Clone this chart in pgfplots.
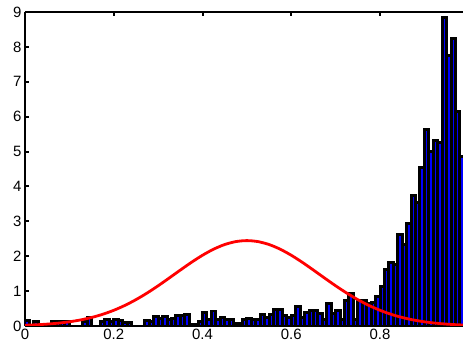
\documentclass[border=0pt]{standalone}
\usepackage{fontspec}
\setmainfont{Liberation Sans}
\usepackage{pgfplots}
\pgfplotsset{compat=1.18}
\begin{document}
\begin{tikzpicture}
\begin{axis}[
  scale only axis, width=438bp, height=314bp,
  xmin=0, xmax=0.987, ymin=0, ymax=9,
  axis x line*=box, axis y line*=left,
  xtick={0,0.2,0.4,0.6,0.8}, ytick={0,1,2,3,4,5,6,7,8,9},
  tick align=inside, major tick length=4bp,
  tick style={black, line width=2pt},
  axis line style={line width=3pt, black},
  tick label style={font=\fontsize{15}{15}\selectfont},
  /pgf/number format/assume math mode=true,
  clip=true,
]
\addplot[ybar, bar width=0.01, fill=blue, draw=black, line width=3pt] coordinates {
(0.005,0.15) (0.015,0) (0.025,0.12) (0.035,0) (0.045,0) (0.055,0) (0.065,0.12) (0.075,0.12) (0.085,0.12) (0.095,0.12)
(0.105,0) (0.115,0) (0.125,0) (0.135,0.12) (0.145,0.25) (0.155,0) (0.165,0) (0.175,0.12) (0.185,0.2) (0.195,0.12)
(0.205,0.2) (0.215,0.15) (0.225,0.1) (0.235,0.1) (0.245,0) (0.255,0) (0.265,0) (0.275,0.15) (0.285,0.12) (0.295,0.27)
(0.305,0.22) (0.315,0.27) (0.325,0.2) (0.335,0.22) (0.345,0.3) (0.355,0.3) (0.365,0.34) (0.375,0.05) (0.385,0.05) (0.395,0.12)
(0.405,0.38) (0.415,0.2) (0.425,0.43) (0.435,0.2) (0.445,0.24) (0.455,0.2) (0.465,0.2) (0.475,0.08) (0.485,0.08) (0.495,0.2)
(0.505,0.22) (0.515,0.2) (0.525,0.2) (0.535,0.34) (0.545,0.24) (0.555,0.34) (0.565,0.46) (0.575,0.46) (0.585,0.3) (0.595,0.24)
(0.605,0.3) (0.615,0.55) (0.625,0.25) (0.635,0.38) (0.645,0.44) (0.655,0.44) (0.665,0.37) (0.675,0.19) (0.685,0.65) (0.695,0.36)
(0.705,0.44) (0.715,0.2) (0.725,0.73) (0.735,0.94) (0.745,0.2) (0.755,0.73) (0.765,0.72) (0.775,0.65) (0.785,0.68) (0.795,0.84)
(0.805,1.13) (0.815,1.63) (0.825,1.82) (0.835,1.76) (0.845,2.62) (0.855,2.33) (0.865,2.93) (0.875,3.73) (0.885,3.55) (0.895,4.53)
(0.905,5.64) (0.915,5.0) (0.925,5.32) (0.935,5.25) (0.945,8.84) (0.955,7.74) (0.965,8.25) (0.975,6.14) (0.985,4.86)
};
\addplot[red, line width=2.8pt, smooth] coordinates {
(0,0.0222) (0.025,0.0350) (0.05,0.0542) (0.075,0.0817) (0.1,0.1205) (0.125,0.1735) (0.15,0.2441) (0.175,0.3353)
(0.2,0.4499) (0.225,0.5897) (0.25,0.7549) (0.275,0.9440) (0.3,1.1529) (0.325,1.3754) (0.35,1.6026) (0.375,1.8240)
(0.4,2.0277) (0.425,2.2016) (0.45,2.3350) (0.475,2.4189) (0.5,2.4475) (0.525,2.4189) (0.55,2.3350) (0.575,2.2016)
(0.6,2.0277) (0.625,1.8240) (0.65,1.6026) (0.675,1.3754) (0.7,1.1529) (0.725,0.9440) (0.75,0.7549) (0.775,0.5897)
(0.8,0.4499) (0.825,0.3353) (0.85,0.2441) (0.875,0.1735) (0.9,0.1205) (0.925,0.0817) (0.95,0.0542) (0.975,0.0350) (1.0,0.0222)
};
\end{axis}
\pgfresetboundingbox
\useasboundingbox (-25bp,-20bp) rectangle (438bp,326bp);
\end{tikzpicture}
\end{document}
